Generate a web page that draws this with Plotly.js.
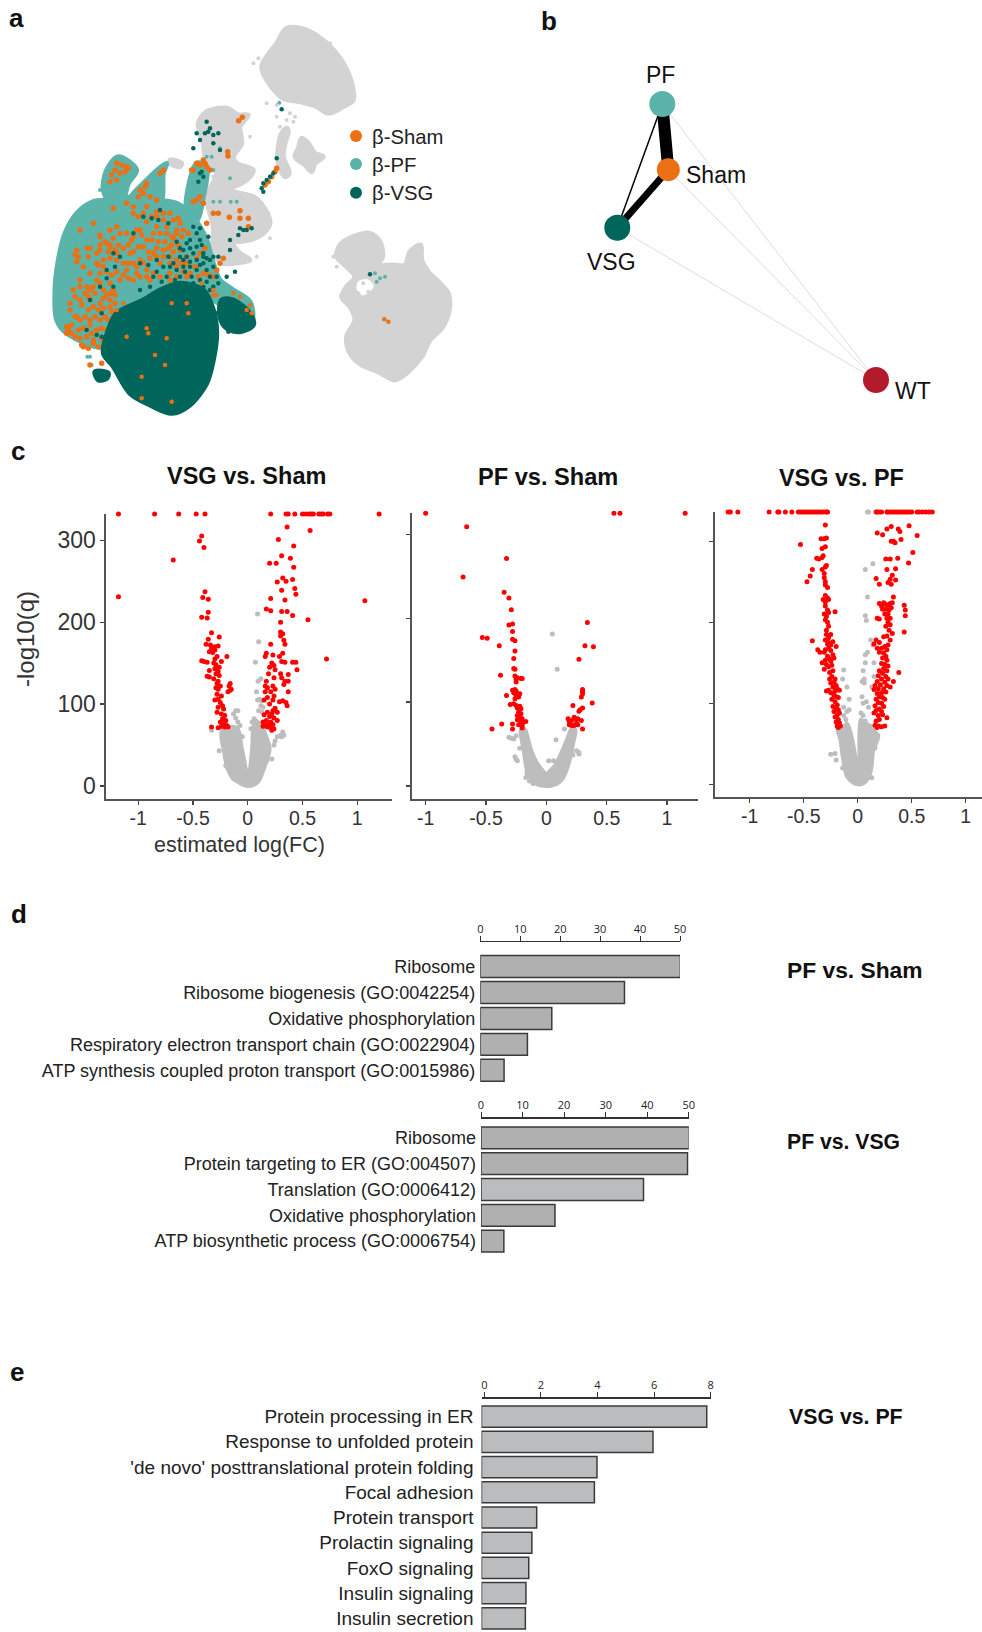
<!DOCTYPE html>
<html><head><meta charset="utf-8">
<script src="https://cdn.plot.ly/plotly-3.0.1.min.js"></script>
<style>html,body{margin:0;padding:0;background:#fff}</style></head>
<body><div id="chart" style="width:982px;height:1632px"></div>
<script>
// ---------- Panel a: outlines and dots (picture units) ----------
const greyTop=[[860,85],[920,90],[975,125],[1000,150],[1030,190],[1055,250],[1060,300],[1030,320],[985,340],[950,320],[900,305],[850,295],[800,240],[785,200],[800,170],[830,130]];
const greyTail=[[860,385],[865,395],[855,430],[850,470],[868,520],[855,530],[835,490],[835,440],[845,400]];
const greySmall=[[905,415],[925,430],[945,460],[970,470],[945,490],[935,515],[915,495],[885,470],[895,445]];
const greyMid=[[620,335],[680,325],[715,345],[745,345],[720,380],[725,430],[700,470],[710,490],[760,510],[740,540],[690,570],[760,590],[790,620],[810,670],[790,700],[750,720],[700,730],[720,760],[750,780],[700,790],[670,790],[640,760],[640,680],[620,590],[650,520],[620,490],[610,430],[595,370]];
const greyLeftBit=[[510,480],[545,490],[540,500],[510,490]];
const greyRight=[[1010,770],[1020,735],[1060,710],[1110,700],[1140,725],[1148,770],[1135,795],[1180,795],[1215,795],[1230,755],[1262,735],[1265,780],[1285,815],[1320,850],[1345,880],[1348,930],[1325,985],[1290,1020],[1265,1070],[1225,1115],[1185,1140],[1135,1115],[1085,1095],[1050,1060],[1040,1010],[1065,960],[1050,920],[1025,890],[1040,860],[1065,830],[1040,800]];
const whiteGap=[[1075,845],[1105,840],[1120,860],[1090,885],[1072,870]];
const greyDots=[[760,190],[775,175],[800,310],[830,315],[870,340],[885,350],[855,390],[840,380],[960,120],[990,130],[1000,150],[770,770],[810,715],[750,410],[700,490],[720,495],[680,520],[700,560],[660,560],[690,700],[665,710],[1000,770],[880,365],[830,350],[860,360],[1010,800],[1030,880],[1035,900],[730,520],[750,530],[640,530],[615,470],[1090,850],[1105,875],[1075,880],[1125,920],[770,600],[805,640]];
const tealMain=[[280,605],[340,600],[400,590],[470,600],[530,610],[570,640],[600,680],[620,720],[640,790],[660,840],[700,870],[750,905],[755,960],[640,900],[560,850],[420,900],[320,1040],[200,1000],[170,960],[165,870],[175,780],[195,700],[230,640]];
const tealTop=[[320,510],[355,470],[410,510],[385,550],[365,610],[335,615],[310,570]];
const tealStreamA=[[390,600],[440,540],[500,490],[490,520],[480,610]];
const tealStreamB=[[590,490],[620,500],[610,590],[590,660],[560,640]];
const darkMain=[[350,940],[430,900],[480,870],[540,850],[610,870],[640,930],[650,1000],[640,1080],[620,1150],[570,1215],[515,1240],[450,1215],[390,1180],[340,1100],[310,1060],[325,990]];
const darkRight=[[665,900],[700,900],[750,940],[760,975],[720,995],[680,985],[660,950]];
const darkSmall=[[285,1115],[325,1120],[320,1135],[295,1140]];
const orangeDots=[[350,490],[365,495],[380,500],[345,510],[375,515],[335,525],[360,520],[350,540],[330,545],[385,505],[420,570],[435,560],[415,590],[430,580],[440,550],[490,510],[480,520],[450,590],[470,600],[590,490],[610,480],[620,500],[580,510],[630,510],[615,490],[600,495],[590,600],[580,605],[610,610],[600,590],[575,510],[716,362],[727,352],[683,455],[684,468],[640,640],[655,640],[620,670],[688,652],[720,632],[720,655],[745,655],[745,680],[830,505],[825,515],[815,530],[805,545],[795,555],[1153,958],[1165,965],[340,625],[380,610],[470,650],[510,640],[490,660],[540,670],[550,690],[530,700],[520,715],[545,710],[565,700],[500,680],[470,680],[440,665],[420,690],[400,710],[380,700],[350,680],[330,690],[300,710],[280,670],[240,690],[230,750],[225,765],[265,770],[300,750],[330,740],[350,760],[320,730],[400,640],[440,620],[460,700],[430,740],[390,760],[370,790],[420,780],[460,760],[490,750],[510,770],[480,790],[440,810],[410,820],[380,810],[530,800],[560,790],[510,820],[480,830],[450,840],[420,850],[390,860],[360,840],[330,850],[600,760],[615,745],[660,790],[670,775],[650,810],[640,830],[560,830],[540,850],[490,870],[460,890],[430,880],[400,900],[370,910],[350,930],[330,920],[250,800],[270,820],[240,840],[220,870],[260,860],[290,790],[310,800],[290,840],[310,870],[330,880],[240,900],[210,910],[270,900],[300,910],[230,950],[200,980],[215,1000],[250,1040],[280,1030],[310,1020],[515,910],[565,940],[500,1015],[465,1065],[495,1095],[425,1130],[380,1010],[445,1000],[425,1195],[515,1205],[440,985],[560,910],[640,885],[700,880],[720,890],[740,930],[750,915],[755,940],[650,885],[605,850],[270,1095],[305,1090],
[300,705],[315,725],[330,735],[340,715],[325,755],[345,750],[355,735],[300,735],[290,760],[370,745],[385,735],[395,720],[360,700],[410,690],[425,705],[440,720],[415,740],[400,755],[350,780],[330,775],[310,780],[295,795],[235,770],[230,785],[270,745],[262,745],[300,820],[320,815],[335,825],[350,815],[370,825],[385,835],[400,840],[420,830],[440,830],[460,820],[350,850],[340,870],[320,885],[300,850],[280,860],[255,880],[265,890],[240,860],[225,890],[245,915],[270,870],[285,880],[310,895],[330,900],[345,885],[360,880],[375,865],[395,875],[415,870],[435,860],[450,860],[470,850],[490,845],[510,840],[530,830],[550,815],[530,780],[510,790],[490,770],[470,770],[450,775],[430,790],[410,800],[400,790],[385,790],[210,930],[225,950],[240,960],[255,950],[265,930],[280,920],[295,930],[310,925],[285,950],[300,960],[315,950],[325,960],[270,975],[250,985],[235,990],[215,975],[205,990],[225,1010],[240,1015],[260,1010],[275,1000],[290,990],[305,985],[320,990],[280,1020],[295,1040],[265,1045],[245,1035],[305,1015],[320,1025],[270,960],[345,910],[335,935],[200,1000],[400,620],[415,650],[430,640],[455,650],[470,635],[490,640],[520,660],[535,655],[500,700],[480,700],[455,720],[475,725],[495,725],[515,735],[535,735],[540,750],[520,755],[505,745],[470,745],[445,755],[560,770],[545,790],[590,775],[585,800],[610,820],[595,830],[570,820],[640,870],[625,825],[515,710],[530,690]];
const darkDots=[[620,365],[630,385],[625,395],[615,400],[640,405],[590,400],[655,400],[600,420],[580,445],[640,430],[660,450],[600,520],[610,530],[595,545],[605,515],[790,550],[800,540],[810,530],[820,520],[785,565],[790,575],[830,475],[845,328],[720,685],[730,690],[715,705],[740,690],[755,685],[690,720],[690,750],[705,815],[680,830],[655,770],[1110,823],[560,730],[570,720],[590,740],[550,750],[540,770],[580,760],[610,790],[620,810],[640,800],[590,810],[570,800],[530,810],[510,800],[490,800],[470,815],[600,840],[620,845],[580,850],[430,650],[480,630],[400,700],[340,860],[420,790],[670,920],[685,995],[650,940],[640,955],[600,720],[625,710],[570,745],[610,770],[630,780],[550,780],[590,780],[650,830],[500,830],[460,830],[540,830],[560,770],
[455,655],[475,660],[505,670],[530,725],[540,745],[505,770],[520,790],[470,780],[445,795],[550,800],[570,785],[600,795],[620,775],[605,735],[590,700],[600,685],[580,680],[610,760],[640,770],[630,830],[655,850],[640,860],[575,830],[555,815],[525,840],[485,845],[450,860],[420,870],[610,860],[630,870],[360,770],[320,810],[345,800],[300,860],[320,835],[270,900],[305,940],[260,990],[290,1005],[305,1010],[340,760]];
const tealDots=[[838,308],[692,605],[710,605],[660,605],[640,605],[1125,820],[1140,835],[1155,830],[1130,845],[320,570],[300,570],[640,510],[620,470],[690,535],[660,445],[635,470],[270,1070],[275,1095],[262,1070]];
const legendNames=['β-Sham','β-PF','β-VSG'];
const legendY=[408,492,578];

// ---------- Panel b: network ----------
const netNames=['PF','Sham','VSG','WT'];
const netX=[662.3,668.3,617.3,876];
const netY=[104,169.7,227.7,380];
const netSizes=[26,23,26,26];
const netEdges=[[0,1,12,'#000'],[1,2,7,'#000'],[0,2,1.5,'#000'],[0,3,0.7,'#cfcfcf'],[1,3,0.7,'#cfcfcf'],[2,3,0.7,'#cfcfcf']];

// ---------- Panel c: volcano plots (log FC, -log10 q) ----------
const v1Red=[[-1.18,332],[-0.85,332],[-0.63,332],[-0.47,332],[-0.39,332],[0.21,332],[0.35,332],[0.37,332],[0.43,332],[0.5,332],[0.53,332],[0.56,332],[0.58,332],[0.6,332],[0.65,332],[0.67,332],[0.69,332],[0.73,332],[0.75,332],[1.2,332],[0.36,316],[0.57,312],[-0.42,305],[-0.44,299],[-0.40,291],[0.28,301],[0.42,293],[-0.68,276],[0.31,281],[0.39,278],[0.20,272],[0.26,272],[0.42,267],[0.32,254],[0.35,250],[0.41,252],[0.27,249],[0.31,239],[0.43,241],[0.44,234],[-0.41,230],[-0.39,237],[-0.36,228],[-1.18,231],[1.07,226],[0.21,229],[0.34,227],[0.17,216],[0.21,214],[0.31,213],[0.36,213],[0.41,208],[0.55,203],[-0.36,212],[-0.37,205],[-0.42,206],[0.30,200],[0.30,188],[0.32,186],[0.30,183],[0.33,178],[0.34,173],[0.21,173],[-0.33,187],[-0.26,182],[-0.36,179],[-0.38,173],[-0.34,172],[-0.30,170],[-0.27,171],[-0.33,168],[-0.35,164],[-0.32,163],[-0.30,166],[-0.42,153],[-0.40,152],[-0.37,151],[-0.19,158],[-0.28,158],[-0.30,155],[-0.31,150],[-0.24,152],[-0.29,148],[-0.26,145],[-0.30,143],[-0.35,141],[-0.27,140],[-0.29,137],[-0.37,134],[-0.35,133],[-0.31,131],[-0.26,135],[-0.27,128],[-0.28,125],[-0.25,122],[-0.29,120],[-0.27,118],[-0.16,125],[-0.17,122],[-0.16,117],[-0.18,115],[-0.15,118],[-0.28,112],[-0.24,110],[-0.27,106],[-0.30,105],[-0.25,102],[-0.23,98],[-0.27,96],[-0.22,94],[-0.28,90],[-0.24,88],[-0.21,86],[-0.23,82],[-0.20,80],[-0.25,78],[-0.22,76],[-0.19,74],[-0.24,73],[-0.21,72],[-0.18,72],[-0.27,71],[-0.33,72],[0.17,162],[0.16,158],[0.23,160],[0.32,162],[0.29,158],[0.31,152],[0.34,151],[0.41,151],[0.44,151],[0.45,142],[0.72,155],[0.22,150],[0.24,147],[0.20,145],[0.25,142],[0.19,137],[0.30,137],[0.37,136],[0.24,132],[0.31,132],[0.34,128],[0.37,128],[0.33,124],[0.17,128],[0.16,122],[0.23,122],[0.18,120],[0.25,118],[0.21,115],[0.16,115],[0.37,115],[0.24,110],[0.18,108],[0.15,105],[0.23,105],[0.29,103],[0.32,104],[0.35,102],[0.36,98],[0.20,100],[0.25,95],[0.23,92],[0.22,88],[0.18,90],[0.15,87],[0.27,90],[0.20,85],[0.24,83],[0.17,80],[0.21,78],[0.14,78],[0.19,75],[0.23,75],[0.27,80],[0.16,74],[0.20,72],[0.24,70],[0.14,73],[0.18,72],[0.22,68]];
const v1Grey=[[0.09,210],[0.10,176],[0.07,151],[0.095,128],[0.12,131],[0.08,115],[0.11,106],[0.09,105],[0.13,104],[0.10,92],[0.14,96],[0.12,98],[0.13,90],[-0.11,92],[-0.09,92],[-0.13,88],[-0.11,83],[-0.09,78],[-0.07,74],[-0.33,68],[0.32,66],[0.33,62],[0.31,60],[0.25,55],[0.24,50],[0.3,62],[-0.26,43],[-0.2,55],[-0.2,35],[-0.2,25],[-0.18,22],[0.22,33],[0.17,30],[0.04,78],[0.06,82],[0.03,70],[-0.07,62],[-0.05,60],[-0.13,65],[0.27,60],[0.19,50]];
const v1Mass=[[0,0],[-0.05,2],[-0.1,6],[-0.14,10],[-0.18,20],[-0.20,30],[-0.22,45],[-0.24,60],[-0.23,70],[-0.18,72],[-0.12,72],[-0.09,70],[-0.06,50],[-0.03,30],[-0.01,15],[0,10],[0.02,20],[0.04,45],[0.05,70],[0.07,80],[0.13,72],[0.17,60],[0.2,45],[0.17,30],[0.13,15],[0.1,6],[0.05,1]];
const v2Red=[[-1,325],[0.56,325],[0.61,325],[1.15,325],[-0.66,309],[-0.33,271],[-0.69,249],[-0.35,231],[-0.31,224],[-0.29,210],[-0.31,192],[-0.28,193],[-0.28,184],[-0.53,177],[-0.49,176],[-0.28,175],[-0.26,173],[-0.39,167],[-0.26,161],[-0.27,152],[-0.27,140],[-0.26,139],[-0.38,132],[-0.26,131],[-0.24,129],[-0.25,127],[-0.21,128],[-0.2,128],[-0.25,124],[-0.28,114],[-0.26,115],[-0.25,113],[-0.22,110],[-0.27,111],[-0.25,108],[-0.33,108],[-0.26,104],[-0.23,106],[-0.30,97],[-0.27,98],[-0.25,96],[-0.22,95],[-0.24,93],[-0.21,92],[-0.23,88],[-0.21,86],[-0.24,84],[-0.22,82],[-0.2,80],[-0.24,79],[-0.21,76],[-0.19,76],[-0.17,77],[-0.23,73],[-0.2,72],[-0.28,74],[-0.28,68],[-0.37,74],[-0.45,68],[-0.2,69],[0.34,195],[0.32,167],[0.39,166],[0.27,151],[0.30,115],[0.30,113],[0.30,110],[0.29,106],[0.38,99],[0.22,96],[0.30,93],[0.28,91],[0.27,89],[0.18,80],[0.23,82],[0.24,80],[0.19,77],[0.26,80],[0.21,78],[0.29,78],[0.25,75],[0.21,72],[0.23,72],[0.19,73],[0.3,68],[0.26,73]];
const v2Grey=[[0.05,181],[0.09,139],[0.15,68],[0.08,55],[-0.31,58],[-0.29,57],[-0.27,56],[-0.25,60],[-0.22,45],[-0.26,35],[-0.25,32],[-0.24,30],[0.25,42],[0.27,40],[0.27,38],[0.22,37],[-0.17,52],[-0.17,10],[-0.14,6],[-0.11,3],[0.02,30],[0.06,30],[-0.16,18],[-0.16,15]];
const v2Mass=[[0,0],[-0.06,1],[-0.11,5],[-0.15,15],[-0.17,25],[-0.19,45],[-0.21,60],[-0.21,68],[-0.18,68],[-0.15,55],[-0.12,40],[-0.08,28],[-0.04,20],[0,14],[0.03,18],[0.07,24],[0.12,38],[0.17,55],[0.21,68],[0.24,67],[0.22,50],[0.2,35],[0.17,20],[0.13,8],[0.08,2],[0.03,0]];
const v3Top=[-1.2,-1.18,-1.11,-0.82,-0.74,-0.73,-0.67,-0.61,-0.55,-0.53,-0.51,-0.49,-0.47,-0.45,-0.43,-0.41,-0.39,-0.37,-0.35,-0.33,-0.31,-0.29,-0.28,0.17,0.18,0.2,0.22,0.27,0.28,0.3,0.32,0.34,0.36,0.38,0.4,0.42,0.44,0.46,0.48,0.5,0.55,0.57,0.6,0.63,0.66,0.69];
const v3Red=[[-0.30,320],[-0.53,296],[-0.31,303],[-0.29,304],[-0.34,303],[-0.33,291],[-0.3,293],[-0.32,282],[-0.38,279],[-0.36,278],[-0.33,280],[-0.29,270],[-0.3,268],[-0.42,265],[-0.33,265],[-0.44,257],[-0.47,250],[-0.31,260],[-0.31,255],[-0.30,250],[-0.3,246],[-0.28,243],[-0.3,233],[-0.28,230],[-0.3,225],[-0.27,228],[-0.32,228],[-0.3,220],[-0.28,215],[-0.31,210],[-0.29,207],[-0.27,212],[-0.3,203],[-0.21,213],[-0.28,200],[-0.27,195],[-0.29,190],[-0.25,185],[-0.29,185],[-0.27,181],[-0.3,178],[-0.27,175],[-0.23,176],[-0.42,177],[-0.28,173],[-0.25,172],[-0.2,170],[-0.27,168],[-0.3,166],[-0.37,166],[-0.35,163],[-0.31,163],[-0.25,165],[-0.23,160],[-0.28,158],[-0.26,155],[-0.3,153],[-0.33,150],[-0.29,148],[-0.25,152],[-0.22,156],[-0.27,145],[-0.24,147],[-0.31,142],[-0.23,140],[-0.26,138],[-0.24,133],[-0.21,130],[-0.26,130],[-0.22,126],[-0.25,125],[-0.2,122],[-0.23,120],[-0.19,118],[-0.21,115],[-0.29,115],[-0.27,116],[-0.25,113],[-0.17,116],[-0.22,110],[-0.2,108],[-0.24,105],[-0.18,107],[-0.21,102],[-0.19,98],[-0.23,96],[-0.2,93],[-0.18,92],[-0.22,90],[-0.19,86],[-0.17,88],[-0.21,83],[-0.18,80],[-0.2,77],[-0.17,76],[-0.19,72],[-0.16,72],[-0.18,70],[0.475,319],[0.31,318],[0.27,315],[0.375,315],[0.39,312],[0.18,310],[0.23,308],[0.55,307],[0.31,300],[0.33,300],[0.4,302],[0.345,298],[0.51,286],[0.26,278],[0.30,278],[0.37,279],[0.47,273],[0.27,265],[0.35,266],[0.32,258],[0.17,254],[0.35,252],[0.3,253],[0.2,247],[0.31,247],[0.28,249],[0.33,231],[0.2,223],[0.22,220],[0.24,224],[0.26,222],[0.28,221],[0.3,223],[0.32,224],[0.23,216],[0.26,216],[0.29,215],[0.31,218],[0.25,210],[0.28,210],[0.43,221],[0.44,215],[0.44,208],[0.3,205],[0.27,205],[0.18,205],[0.2,204],[0.28,200],[0.3,197],[0.26,195],[0.29,190],[0.32,186],[0.43,188],[0.27,183],[0.24,182],[0.3,178],[0.17,178],[0.2,175],[0.28,172],[0.25,170],[0.15,173],[0.18,168],[0.22,168],[0.27,166],[0.24,162],[0.2,163],[0.26,158],[0.23,156],[0.27,153],[0.25,148],[0.22,149],[0.28,146],[0.24,143],[0.2,140],[0.27,140],[0.23,137],[0.38,138],[0.19,134],[0.26,133],[0.22,130],[0.28,130],[0.18,127],[0.25,126],[0.33,127],[0.16,122],[0.21,123],[0.27,122],[0.3,120],[0.19,118],[0.24,118],[0.15,117],[0.22,113],[0.18,112],[0.26,114],[0.2,108],[0.23,107],[0.17,105],[0.25,105],[0.19,101],[0.22,100],[0.16,97],[0.24,96],[0.2,93],[0.17,91],[0.22,90],[0.15,88],[0.19,85],[0.23,86],[0.2,80],[0.17,78],[0.27,82],[0.16,73],[0.19,72],[0.25,72],[0.22,71],[0.18,70]];
const v3Grey=[[0.09,336],[0.1,336],[0.07,265],[0.14,272],[0.09,231],[0.07,208],[0.08,202],[0.12,178],[0.14,172],[0.07,160],[0.09,163],[0.07,150],[0.15,150],[0.05,140],[0.06,130],[0.04,127],[0.06,125],[0.13,120],[0.15,133],[0.04,108],[0.05,100],[0.08,102],[0.1,95],[0.03,88],[0.05,85],[-0.13,141],[-0.14,130],[-0.1,120],[-0.08,105],[-0.1,90],[-0.13,95],[-0.08,92],[-0.13,85],[-0.11,80],[0.07,78],[0.12,70],[-0.25,37],[-0.21,38],[-0.2,30],[0.18,60],[0.16,45],[0.13,8],[0.1,55],[-0.14,20],[-0.12,55]];
const v3Mass=[[0,0],[-0.04,2],[-0.1,10],[-0.12,20],[-0.14,35],[-0.16,55],[-0.19,70],[-0.15,68],[-0.1,75],[-0.06,60],[-0.03,40],[-0.01,25],[0,20],[0.015,30],[0.015,60],[0.03,80],[0.07,75],[0.12,72],[0.16,65],[0.19,60],[0.14,40],[0.13,25],[0.11,12],[0.06,2],[0.02,0]];
const fcTicks=[-1,-0.5,0,0.5,1];
const fcTickText=['-1','-0.5','0','0.5','1'];
const qTicks=[0,100,200,300];

// ---------- Panels d, e: enrichment bars ----------
const d1Terms=['Ribosome','Ribosome biogenesis (GO:0042254)','Oxidative phosphorylation','Respiratory electron transport chain (GO:0022904)','ATP synthesis coupled proton transport (GO:0015986)'];
const d1Values=[50.1,36.1,17.9,11.8,5.95];
const d2Terms=['Ribosome','Protein targeting to ER (GO:004507)','Translation (GO:0006412)','Oxidative phosphorylation','ATP biosynthetic process (GO:0006754)'];
const d2Values=[50.1,49.7,39.1,17.8,5.5];
const d2Colors=['#b0b0b0','#b0b0b0','#bbbcbe','#b0b0b0','#b0b0b0'];
const eTerms=['Protein processing in ER','Response to unfolded protein',"'de novo' posttranslational protein folding",'Focal adhesion','Protein transport','Prolactin signaling','FoxO signaling','Insulin signaling','Insulin secretion'];
const eValues=[7.96,6.06,4.08,3.99,1.95,1.78,1.67,1.57,1.55];
const dTicks=[0,10,20,30,40,50];
const eTicks=[0,2,4,6,8];

// ---------- Build ----------
const W=982,H=1632,FONT='Liberation Sans, Arial, sans-serif';
const xd=(a,b)=>[a/W,b/W], yd=(a,b)=>[1-b/H,1-a/H];
const xs=p=>p.map(q=>q[0]), ys=p=>p.map(q=>q[1]);
const closed=p=>p.concat([p[0]]);
const traces=[];
function poly(p,c,xa,ya,lw){traces.push({type:'scatter',mode:'lines',x:xs(closed(p)),y:ys(closed(p)),fill:'toself',fillcolor:c,line:{color:c,width:lw===undefined?5:lw,shape:'spline',smoothing:0.9},xaxis:xa,yaxis:ya,hoverinfo:'skip',showlegend:false,cliponaxis:false});}
function dots(p,c,s,xa,ya){traces.push({type:'scatter',mode:'markers',x:xs(p),y:ys(p),marker:{color:c,size:s,opacity:1,line:{width:0}},xaxis:xa,yaxis:ya,hoverinfo:'skip',showlegend:false,cliponaxis:false});}
const GREY='#d3d3d3',TEAL='#5bb4a9',ORANGE='#ec7014',DARK='#00665c';
[greyTop,greyTail,greySmall,greyMid,greyLeftBit,greyRight].forEach(p=>poly(p,GREY,'x','y'));
poly(whiteGap,'#ffffff','x','y',1);
dots(greyDots,GREY,4,'x','y');
[tealMain,tealTop,tealStreamA,tealStreamB].forEach(p=>poly(p,TEAL,'x','y'));
dots(tealDots,TEAL,4,'x','y');
dots(orangeDots.filter(q=>q[1]<=840||q[0]<350),ORANGE,5.5,'x','y');
[darkMain,darkRight,darkSmall].forEach(p=>poly(p,DARK,'x','y'));
dots(darkDots,DARK,4.5,'x','y');
dots(orangeDots.filter(q=>q[1]>840&&q[0]>=350&&(q[1]>900||q[0]>600)),ORANGE,4.5,'x','y');
// legend of panel a
const legendColors=[ORANGE,TEAL,DARK];
traces.push({type:'scatter',mode:'markers',x:[1068,1068,1068],y:legendY,marker:{color:legendColors,size:12,opacity:1},xaxis:'x',yaxis:'y',hoverinfo:'skip',showlegend:false});
// network
netEdges.forEach(e=>traces.push({type:'scatter',mode:'lines',x:[netX[e[0]],netX[e[1]]],y:[netY[e[0]],netY[e[1]]],line:{color:e[3],width:e[2]},xaxis:'x2',yaxis:'y2',hoverinfo:'skip',showlegend:false}));
traces.push({type:'scatter',mode:'markers',x:netX,y:netY,marker:{color:[TEAL,ORANGE,DARK,'#b31b2c'],size:netSizes,opacity:1,line:{width:0}},xaxis:'x2',yaxis:'y2',hoverinfo:'skip',showlegend:false});
// volcanoes
const VG='#bdbdbd',RED='#ff0000';
poly(v1Mass,VG,'x3','y3',4);dots(v1Grey,VG,5,'x3','y3');dots(v1Red,RED,5,'x3','y3');
poly(v2Mass,VG,'x4','y4',4);dots(v2Grey,VG,5,'x4','y4');dots(v2Red,RED,5,'x4','y4');
poly(v3Mass,VG,'x5','y5',4);dots(v3Grey,VG,5,'x5','y5');dots(v3Red,RED,5,'x5','y5');
dots(v3Top.map(x=>[x,336]),RED,5,'x5','y5');
// bars
function bars(terms,vals,c,xa,ya,w,base){traces.push({type:'bar',orientation:'h',y:terms,x:vals,base:base||0,width:w,marker:{color:c,line:{color:'#3a3a3a',width:1.5}},xaxis:xa,yaxis:ya,hoverinfo:'skip',showlegend:false,cliponaxis:false});}
bars(d1Terms,d1Values,'#b0b0b0','x6','y6',0.846);
bars(d2Terms,d2Values,d2Colors,'x7','y7',0.846);
bars(eTerms,eValues,'#bbbcbe','x8','y8',0.84,-0.1);

const blank={showgrid:false,zeroline:false,showline:false,showticklabels:false,ticks:'',fixedrange:true};
function volcX(dom,range,anchor){return {domain:xd(dom[0],dom[1]),range:range,anchor:anchor,tickmode:'array',tickvals:fcTicks,ticktext:fcTickText,tickfont:{family:FONT,size:19.5,color:'#333'},ticks:'outside',ticklen:4,tickwidth:1.2,tickcolor:'#444',showline:true,linecolor:'#555',linewidth:1.6,showgrid:false,zeroline:false,ticklabelstandoff:-3,fixedrange:true};}
function volcY(dom,range,anchor,labels){return {domain:yd(dom[0],dom[1]),range:range,anchor:anchor,tickmode:'array',tickvals:qTicks,showticklabels:labels,tickfont:{family:FONT,size:23,color:'#333'},ticks:'outside',ticklen:4,tickwidth:1.2,tickcolor:'#444',showline:true,linecolor:'#555',linewidth:1.6,showgrid:false,zeroline:false,fixedrange:true};}
function barX(dom,range,ticks,top){return {domain:xd(dom[0],dom[1]),range:range,anchor:'free',position:1-top/H,side:'top',tickmode:'array',tickvals:ticks,tickfont:{family:'Open Sans, sans-serif',size:11,color:'#222'},ticks:'outside',ticklen:5,tickwidth:1,tickcolor:'#333',showline:true,linecolor:'#333',linewidth:1.2,showgrid:false,zeroline:false,ticklabelstandoff:-1,fixedrange:true};}
function barY(dom,n,anchor,standoff,size){return {domain:yd(dom[0],dom[1]),range:[n-0.5,-0.5],type:'category',anchor:anchor,showline:false,showgrid:false,zeroline:false,ticks:'',tickfont:{family:FONT,size:size,color:'#222'},ticklabelstandoff:standoff,fixedrange:true};}

const ann=(t,x,y,size,bold,opts)=>Object.assign({text:bold?'<b>'+t+'</b>':t,xref:'paper',yref:'paper',x:x/W,y:1-y/H,showarrow:false,xanchor:'center',yanchor:'middle',font:{family:FONT,size:size,color:'#111'}},opts||{});
const legFont={family:FONT,size:20.3,color:'#222'};
const annotations=[
 ann('a',16.5,18,26,true),ann('b',549,21,26,true),ann('c',18,451,26,true),ann('d',19,914,26,true),ann('e',17,1372,26,true),
 ann(legendNames[0],369.5,137,20.3,false,{xanchor:'left',font:legFont}),
 ann(legendNames[1],369.5,165,20.3,false,{xanchor:'left',font:legFont}),
 ann(legendNames[2],369.5,193,20.3,false,{xanchor:'left',font:legFont}),
 ann(netNames[0],660,75,23,false),ann(netNames[1],716,175,23,false),ann(netNames[2],611.7,261.7,23,false),ann(netNames[3],912.7,390.7,23,false),
 ann('VSG vs. Sham',246.5,476,23.5,true),ann('PF vs. Sham',547.5,477,23.6,true),ann('VSG vs. PF',841,478,23.4,true),
 ann('estimated log(FC)',239,845,21.5,false,{font:{family:FONT,size:21.5,color:'#333'}}),
 ann('-log10(q)',25,639,24,false,{textangle:-90,font:{family:FONT,size:24,color:'#333'}}),
 ann('PF vs. Sham',855,970,22.8,true),ann('PF vs. VSG',843,1141,21.2,true),ann('VSG vs. PF',845.5,1417,21.3,true)
];
const layout={width:W,height:H,margin:{l:0,r:0,t:0,b:0},paper_bgcolor:'#fff',plot_bgcolor:'rgba(0,0,0,0)',showlegend:false,bargap:0.15,annotations,
 xaxis:Object.assign({},blank,{domain:xd(0,480),range:[0,1440],anchor:'y'}),
 yaxis:Object.assign({},blank,{domain:yd(0,430),range:[1290,0],anchor:'x'}),
 xaxis2:Object.assign({},blank,{domain:xd(500,950),range:[500,950],anchor:'y2'}),
 yaxis2:Object.assign({},blank,{domain:yd(0,430),range:[430,0],anchor:'x2'}),
 xaxis3:volcX([106,391.7],[-1.294,1.315],'y3'),
 yaxis3:volcY([514,799.3],[-16.2,332],'x3',true),
 xaxis4:volcX([412,697.7],[-1.113,1.254],'y4'),
 yaxis4:volcY([513.3,799],[-15.5,325],'x4',false),
 xaxis5:volcX([714.7,982],[-1.324,1.15],'y5'),
 yaxis5:volcY([512,797.3],[-16,336],'x5',false),
 xaxis6:barX([480.3,680],[0,50],dTicks,941),
 yaxis6:barY([953.5,1083.3],5,'x6',4,18),
 xaxis7:barX([481,688.8],[0,50],dTicks,1117.3),
 yaxis7:barY([1125,1254],5,'x7',4,18),
 xaxis8:barX([481.5,710.7],[-0.1,8],eTicks,1397.3),
 yaxis8:barY([1404,1631],9,'x8',7,19)
};
Plotly.newPlot('chart',traces,layout,{displayModeBar:false,staticPlot:true});
</script></body></html>
